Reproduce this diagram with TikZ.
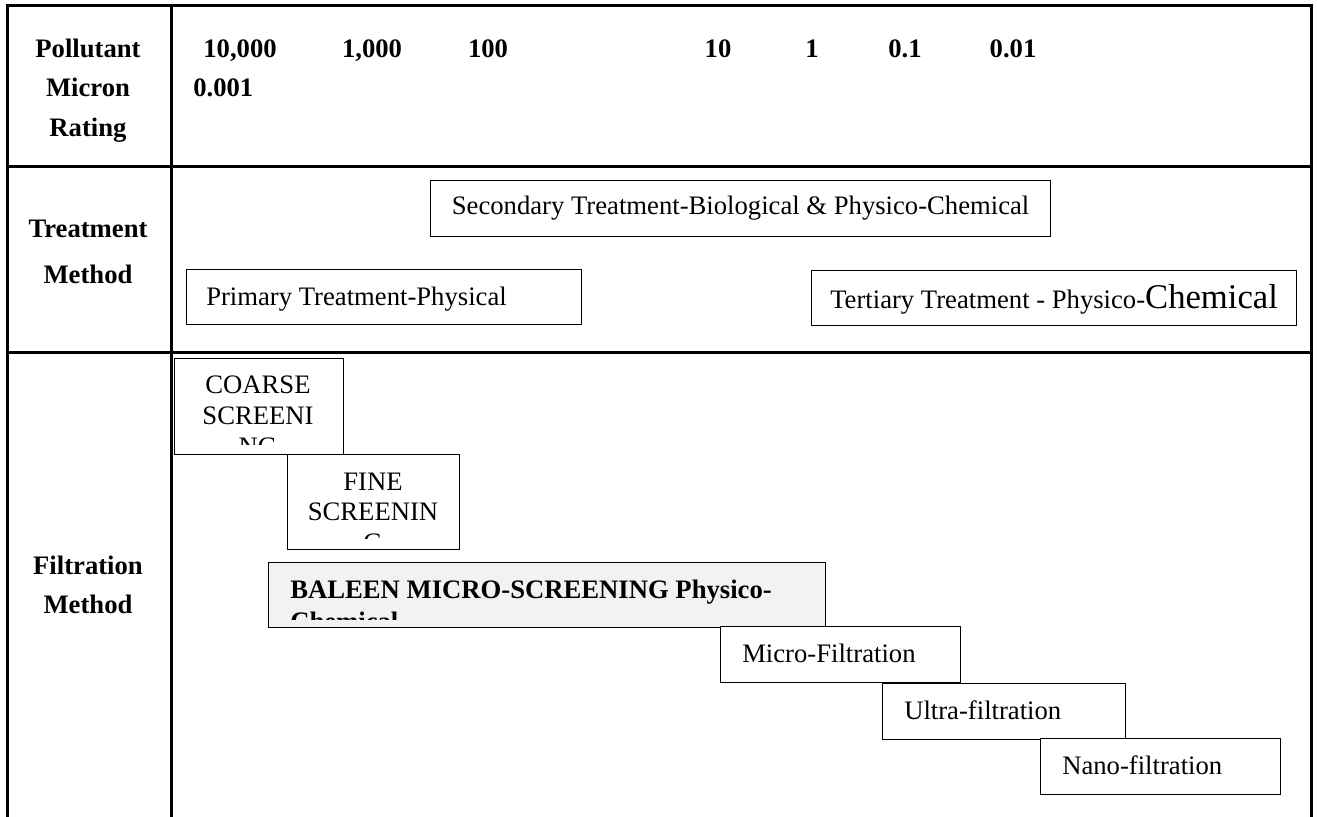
\documentclass[tikz,border=0pt]{standalone}
\usepackage{fontspec}
\setmainfont{Liberation Serif}
\usetikzlibrary{calc}

% one unit = one pixel of the 1317x817 layout
\def\px{0.75pt}
\tikzset{
    tableline/.style={line width=2.25pt},
    headtext/.style={font=\bfseries\fontsize{20}{24}\selectfont, inner sep=0pt},
    boxtext/.style={font=\fontsize{20}{24}\selectfont, inner sep=0pt},
    rangebox/.style={draw, line width=0.9pt, fill=white, inner sep=0pt, anchor=north west},
}

\begin{document}
\begin{tikzpicture}[x=\px, y=-\px]
    \useasboundingbox (0,0) rectangle (1317,817);

    % Table lines
    \draw[tableline] (7,817) -- (7,6) -- (1311,6) -- (1311,817);
    \draw[tableline] (171,6) -- (171,817);
    \foreach \y in {166,352}
        \draw[tableline] (7,\y) -- (1311,\y);

    % Row headings
    \node[headtext, anchor=base] (pollutant) at (88,58) {Pollutant};
    \node[headtext, anchor=base] (micron) at (88,97) {Micron};
    \node[headtext, anchor=base] (rating) at (88,136) {Rating};
    \node[headtext, anchor=base] (treatment) at (88,237) {Treatment};
    \node[headtext, anchor=base] (tmethod) at (88,283) {Method};
    \node[headtext, anchor=base] (filtration) at (88,574) {Filtration};
    \node[headtext, anchor=base] (fmethod) at (88,613) {Method};

    % Micron scale
    \foreach \x/\v/\n in {240/{10,000}/m1, 372/{1,000}/m2, 488/100/m3, 718/10/m4,
                          812/1/m5, 905/0.1/m6, 1013/0.01/m7}
        \node[headtext, anchor=base] (\n) at (\x,58) {\v};
    \node[headtext, anchor=base west] (m8) at (193,97) {0.001};

    % Treatment methods
    \node[rangebox, minimum width=620*\px, minimum height=56*\px, boxtext]
        (secondary) at (430,180) {Secondary Treatment-Biological \& Physico-Chemical};
    \node[rangebox, minimum width=395*\px, minimum height=55*\px] (primary) at (186,269) {};
    \node[boxtext, anchor=base west] (primarytext) at ($(primary.north west)+(20,36)$)
        {Primary Treatment-Physical};
    \node[rangebox, minimum width=485*\px, minimum height=55*\px] (tertiary) at (811,270) {};
    \node[boxtext, anchor=base west] (tertiarytext) at ($(tertiary.north west)+(19,38)$)
        {Tertiary Treatment - Physico-{\fontsize{26}{30}\selectfont Chemical}};

    % Filtration methods
    \node[rangebox, minimum width=169*\px, minimum height=96*\px] (coarse) at (174,358) {};
    \begin{scope}
        \clip (174,358) rectangle (343,444);
        \node[boxtext, anchor=base] (coarse1) at (258,393) {COARSE};
        \node[boxtext, anchor=base] (coarse2) at (258,424) {SCREENI};
        \node[boxtext, anchor=base] (coarse3) at (258,455) {NG};
    \end{scope}

    \node[rangebox, minimum width=172*\px, minimum height=95*\px] (fine) at (287,454) {};
    \begin{scope}
        \clip (287,454) rectangle (459,538);
        \node[boxtext, anchor=base] (fine1) at (373,490) {FINE};
        \node[boxtext, anchor=base] (fine2) at (373,520) {SCREENIN};
        \node[boxtext, anchor=base] (fine3) at (373,551) {G};
    \end{scope}

    \node[rangebox, fill=black!5, minimum width=557*\px, minimum height=65*\px]
        (baleen) at (268,562) {};
    \begin{scope}
        \clip (268,562) rectangle (825,619);
        \node[headtext, anchor=base west] (baleen1) at (290,598) {BALEEN MICRO-SCREENING Physico-};
        \node[headtext, anchor=base west] (baleen2) at (290,630) {Chemical};
    \end{scope}

    \foreach \x/\y/\w/\t/\n in {720/626/240/Micro-Filtration/micro,
                                882/683/243/Ultra-filtration/ultra,
                                1040/738/240/Nano-filtration/nano}{
        \node[rangebox, minimum width=\w*\px, minimum height=56*\px] (\n) at (\x,\y) {};
        \node[boxtext, anchor=base west] (\n text) at ($(\n.north west)+(22,36)$) {\t};
    }
\end{tikzpicture}
\end{document}
